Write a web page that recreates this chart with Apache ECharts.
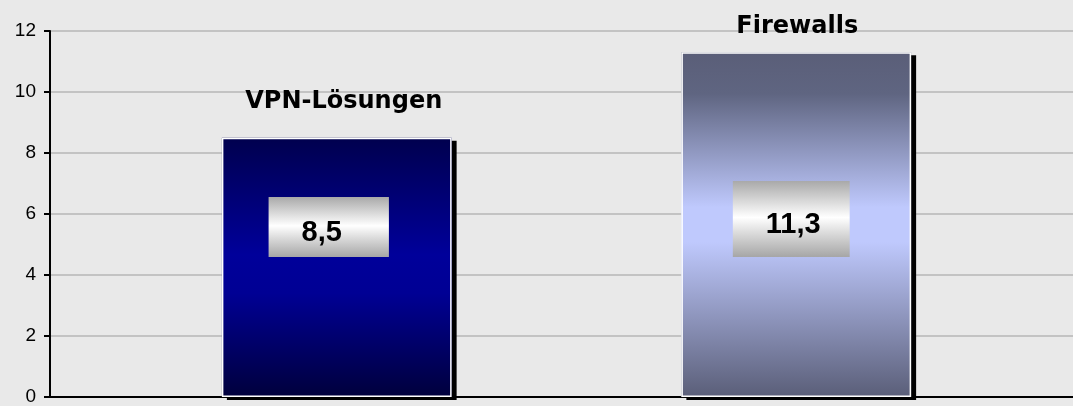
<!DOCTYPE html>
<html>
<head>
    <meta charset="UTF-8">
    <title>VPN-Lösungen / Firewalls</title>
    <script src="https://cdn.jsdelivr.net/npm/echarts/dist/echarts.min.js"></script>
    <style>
        html, body { margin: 0; padding: 0; background: #e9e9e9; }
        #main { width: 1073px; height: 406px; }
    </style>
</head>
<body>
    <div id="main"></div>

    <script type="text/javascript">
        // Daten
        const categories = ['VPN-Lösungen', 'Firewalls'];
        const values = [8.5, 11.3];
        const yMin = 0, yMax = 12, yStep = 2;

        // Farbverläufe der Balken (oben -> Mitte -> unten)
        const barGradients = [
            [[0, '#00004e'], [0.45, '#00009a'], [0.6, '#000094'], [1, '#00003c']],
            [[0, '#5a5e78'], [0.12, '#5f6581'], [0.45, '#bfc9fd'], [0.55, '#bfc9fd'], [1, '#5a5e78']]
        ];
        // Wertbox: Innenabstand [oben, rechts, unten, links], Versatz
        const boxPadding = [[21, 47, 10, 33], [29, 29, 18, 33]];
        const boxOffset = [[-8, 0], [-5, 0]];
        const nameDistance = [24, 14];
        const nameOffset = [[7, 0], [1, 0]];

        const grad = stops => new echarts.graphic.LinearGradient(0, 0, 0, 1,
            stops.map(s => ({ offset: s[0], color: s[1] })));

        const labelGrad = grad([[0, '#a9a9a9'], [0.25, '#d6d6d6'], [0.48, '#ffffff'], [0.7, '#d8d8d8'], [1, '#a6a6a6']]);

        var myChart = echarts.init(document.getElementById('main'));

        var option = {
            backgroundColor: '#e9e9e9',
            animation: false,
            grid: [
                { left: 50, right: 0, top: 31, bottom: 9 },
                { left: 107, right: 47, top: 31, bottom: 9 }
            ],
            xAxis: [
                {
                    gridIndex: 0, type: 'category', data: categories,
                    axisLine: { show: true, lineStyle: { color: '#000', width: 2 } },
                    axisTick: { show: false }, axisLabel: { show: false }
                },
                {
                    gridIndex: 1, type: 'category', data: categories,
                    axisLine: { show: false }, axisTick: { show: false }, axisLabel: { show: false }
                }
            ],
            yAxis: [
                {
                    gridIndex: 0, type: 'value', min: yMin, max: yMax, interval: yStep,
                    axisLine: { show: true, lineStyle: { color: '#000', width: 2 } },
                    axisTick: { show: true, length: 6, lineStyle: { color: '#000', width: 2 } },
                    axisLabel: {
                        color: '#000', fontSize: 19, margin: 14,
                        fontFamily: 'Liberation Sans, Arial, sans-serif'
                    },
                    splitLine: { show: true, lineStyle: { color: '#c3c3c3', width: 2 } }
                },
                {
                    gridIndex: 1, type: 'value', min: yMin, max: yMax, interval: yStep,
                    show: false, splitLine: { show: false }
                }
            ],
            series: [
                {
                    // Balken mit Farbverlauf und Schatten, Wertbox innen
                    type: 'bar',
                    xAxisIndex: 1, yAxisIndex: 1,
                    barWidth: '50%',
                    barGap: '-100%',
                    data: values.map((v, i) => ({
                        value: v,
                        itemStyle: { color: grad(barGradients[i]) },
                        label: { padding: boxPadding[i], offset: boxOffset[i] }
                    })),
                    itemStyle: {
                        shadowColor: '#000', shadowBlur: 0,
                        shadowOffsetX: 5, shadowOffsetY: 3
                    },
                    label: {
                        show: true,
                        position: 'insideBottom',
                        distance: 140,
                        formatter: p => p.value.toFixed(1).replace('.', ','),
                        color: '#000',
                        fontSize: 29,
                        fontWeight: 'bold',
                        lineHeight: 29,
                        fontFamily: 'Liberation Sans, Arial, sans-serif',
                        backgroundColor: labelGrad
                    }
                },
                {
                    // weißer Rand + Kategoriename über dem Balken
                    type: 'bar',
                    xAxisIndex: 1, yAxisIndex: 1,
                    barWidth: '50%',
                    barGap: '-100%',
                    silent: true,
                    itemStyle: { color: 'transparent', borderColor: '#ffffff', borderWidth: 1.5 },
                    data: values.map((v, i) => ({
                        value: v,
                        label: { distance: nameDistance[i], offset: nameOffset[i] }
                    })),
                    label: {
                        show: true,
                        position: 'top',
                        formatter: '{b}',
                        color: '#000',
                        fontSize: 24,
                        lineHeight: 24,
                        fontWeight: 'bold',
                        fontFamily: 'DejaVu Sans, Verdana, sans-serif'
                    }
                }
            ]
        };

        myChart.setOption(option);
    </script>
</body>
</html>
